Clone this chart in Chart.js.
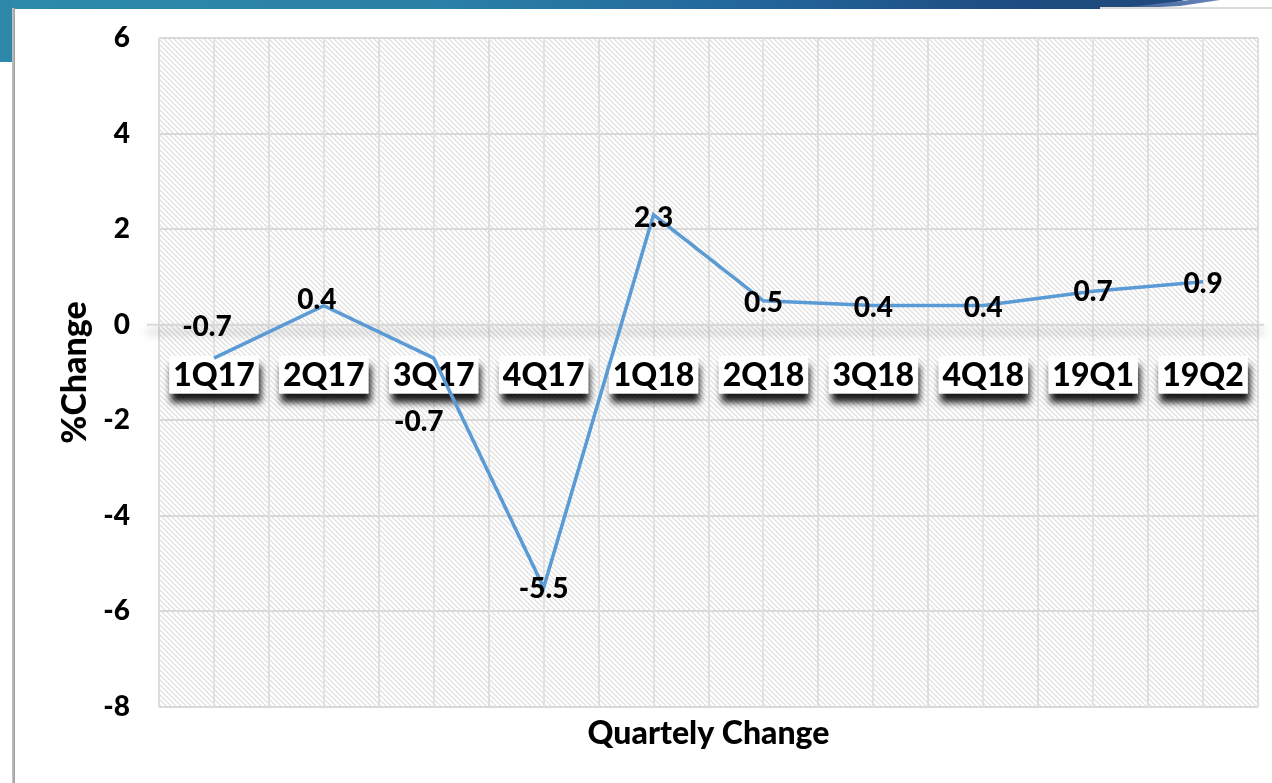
<!DOCTYPE html>
<html><head><meta charset="utf-8">
<script src="https://cdn.jsdelivr.net/npm/chart.js@4/dist/chart.umd.min.js"></script>
<style>
html,body{margin:0;padding:0;width:1272px;height:783px;overflow:hidden;background:#fff;}
#banner{position:absolute;left:0;top:0;width:1272px;height:9px;background:linear-gradient(90deg,#2d8bab 0%,#2a80a6 35%,#22659a 60%,#1e4c80 80%,#1e4a7d 90%);clip-path:polygon(0 0,1185px 0,1172px 3px,1140px 7px,1100px 9px,0 9px);}
#sliver{position:absolute;left:1120px;top:0;width:100px;height:8px;background:linear-gradient(90deg,#3d5f98,#6a86b8);clip-path:polygon(70px 0,100px 0,60px 6px,20px 8px,0 8px);}
#leftbar{position:absolute;left:0;top:0;width:14px;height:62px;background:#2d88a9;}
#panelshadow{position:absolute;left:12px;top:8px;width:3px;height:775px;background:linear-gradient(90deg,#c8c8c8,#9a9a9a);}
#topline{position:absolute;left:1100px;top:7px;width:172px;height:2px;background:#dcdcdc;}
#wrap{position:absolute;left:0;top:0;width:1272px;height:783px;}
</style></head>
<body>
<div id="banner"></div><div id="sliver"></div><div id="topline"></div>
<div id="leftbar"></div><div id="panelshadow"></div>
<div id="wrap"><canvas id="c" width="1272" height="783"></canvas></div>
<script>
const categories = ['1Q17','2Q17','3Q17','4Q17','1Q18','2Q18','3Q18','4Q18','19Q1','19Q2'];
const changeValues = [-0.7, 0.4, -0.7, -5.5, 2.3, 0.5, 0.4, 0.4, 0.7, 0.9];
const yTickValues = [-8, -6, -4, -2, 0, 2, 4, 6];
const yTitle = '%Change';
const xTitle = 'Quartely Change';

const FONT = 'Lato, "Open Sans", sans-serif';

function makeHatch(ctx){
  const c = document.createElement('canvas'); c.width = 5; c.height = 5;
  const g = c.getContext('2d');
  g.fillStyle = '#fff'; g.fillRect(0,0,5,5);
  g.strokeStyle = '#dcdcdc'; g.lineWidth = 1.1;
  g.beginPath();
  g.moveTo(-1,-1); g.lineTo(6,6);
  g.moveTo(-1,4); g.lineTo(1,6);
  g.moveTo(4,-1); g.lineTo(6,1);
  g.stroke();
  return ctx.createPattern(c,'repeat');
}

const hatchPlugin = {
  id: 'hatch',
  beforeDraw(chart){
    const {ctx, chartArea:a} = chart;
    ctx.save();
    ctx.fillStyle = makeHatch(ctx);
    ctx.fillRect(a.left, a.top, a.right-a.left, a.bottom-a.top);
    ctx.restore();
  }
};

const catBoxPlugin = {
  id: 'catBoxes',
  beforeDatasetsDraw(chart, args, opts){
    const {ctx, scales:{x, y}, chartArea:a} = chart;
    const y0 = y.getPixelForValue(0);
    ctx.save();
    ctx.shadowColor = 'rgba(0,0,0,0.45)'; ctx.shadowBlur = 10; ctx.shadowOffsetY = 7;
    ctx.strokeStyle = '#d9d9d9'; ctx.lineWidth = 2;
    ctx.beginPath(); ctx.moveTo(a.left-12, y0); ctx.lineTo(a.right+6, y0); ctx.stroke();
    ctx.restore();
    ctx.save();
    ctx.font = '900 32px ' + FONT;
    ctx.textAlign = 'center'; ctx.textBaseline = 'middle';
    categories.forEach((c,i)=>{
      const cx = x.getPixelForValue(i);
      const w = ctx.measureText(c).width + 8;
      const top = y0 + 31, h = 38;
      ctx.shadowColor = 'rgba(0,0,0,0.9)'; ctx.shadowBlur = 7; ctx.shadowOffsetX = 2; ctx.shadowOffsetY = 9;
      ctx.fillStyle = '#fff'; ctx.fillRect(cx - w/2, top, w, h);
      ctx.shadowColor = 'transparent'; ctx.shadowBlur = 0; ctx.shadowOffsetX = 0; ctx.shadowOffsetY = 0;
      ctx.fillStyle = '#000';
      ctx.fillText(c, cx, top + h/2 + 1);
    });
    ctx.restore();
  }
};

const valueLabelPlugin = {
  id: 'valueLabels',
  afterDatasetsDraw(chart, args, opts){
    const {ctx} = chart;
    const meta = chart.getDatasetMeta(0);
    ctx.save();
    ctx.font = '900 28px ' + FONT;
    ctx.fillStyle = '#000'; ctx.textAlign = 'center'; ctx.textBaseline = 'middle';
    meta.data.forEach((pt,i)=>{
      const off = (opts.offsets && opts.offsets[i]) || [0,2];
      ctx.fillText(String(chart.data.datasets[0].data[i]), pt.x + off[0], pt.y + off[1]);
    });
    ctx.restore();
  }
};

function build(){
  new Chart(document.getElementById('c'), {
    type: 'line',
    data: {
      labels: categories,
      datasets: [{
        data: changeValues,
        borderColor: '#5B9BD5',
        borderWidth: 3.5,
        pointRadius: 0,
        tension: 0,
        fill: false,
        xAxisID: 'x'
      }]
    },
    options: {
      responsive: false,
      animation: false,
      events: [],
      layout: { padding: { left: 0, right: 14, top: 38, bottom: 0 } },
      plugins: {
        legend: { display: false },
        tooltip: { enabled: false },
        valueLabels: {
          offsets: [[-7,-31],[-7,-6],[-15,64],[0,1],[0,3],[0,2],[0,2],[0,2],[0,1],[0,2]]
        }
      },
      scales: {
        y: {
          min: yTickValues[0], max: yTickValues[yTickValues.length-1],
          afterBuildTicks(s){ s.ticks = yTickValues.map(v=>({value:v})); },
          afterFit(s){ s.width = 159; s.paddingTop = 0; s.paddingBottom = 0; },
          ticks: { font: { family: FONT, weight: '900', size: 28 }, color: '#000', padding: 29 },
          grid: { color: '#d9d9d9', lineWidth: 2, drawTicks: false },
          border: { display: false },
          title: { display: true, text: yTitle, color: '#000', font: { family: FONT, weight: '900', size: 34 }, padding: { top: 55, bottom: 0 } }
        },
        x: {
          type: 'category', offset: true, position: 'bottom',
          afterFit(s){ s.height = 76; },
          ticks: { display: false },
          grid: { offset: true, color: '#dedede', lineWidth: 2, drawTicks: false },
          border: { display: false },
          title: { display: true, text: xTitle, color: '#000', font: { family: FONT, weight: '900', size: 32 }, padding: { top: 0, bottom: 30 } }
        },
        x2: {
          type: 'category', labels: categories, offset: true, position: 'bottom',
          afterFit(s){ s.height = 0; },
          ticks: { display: false },
          grid: { offset: false, color: '#e2e2e2', lineWidth: 2, drawTicks: false },
          border: { display: false }
        }
      }
    },
    plugins: [hatchPlugin, catBoxPlugin, valueLabelPlugin]
  });
}
if (document.fonts && document.fonts.load) {
  Promise.all([document.fonts.load('900 30px Lato'), document.fonts.load('bold 30px Lato')]).then(build, build);
} else build();
</script>
</body></html>
